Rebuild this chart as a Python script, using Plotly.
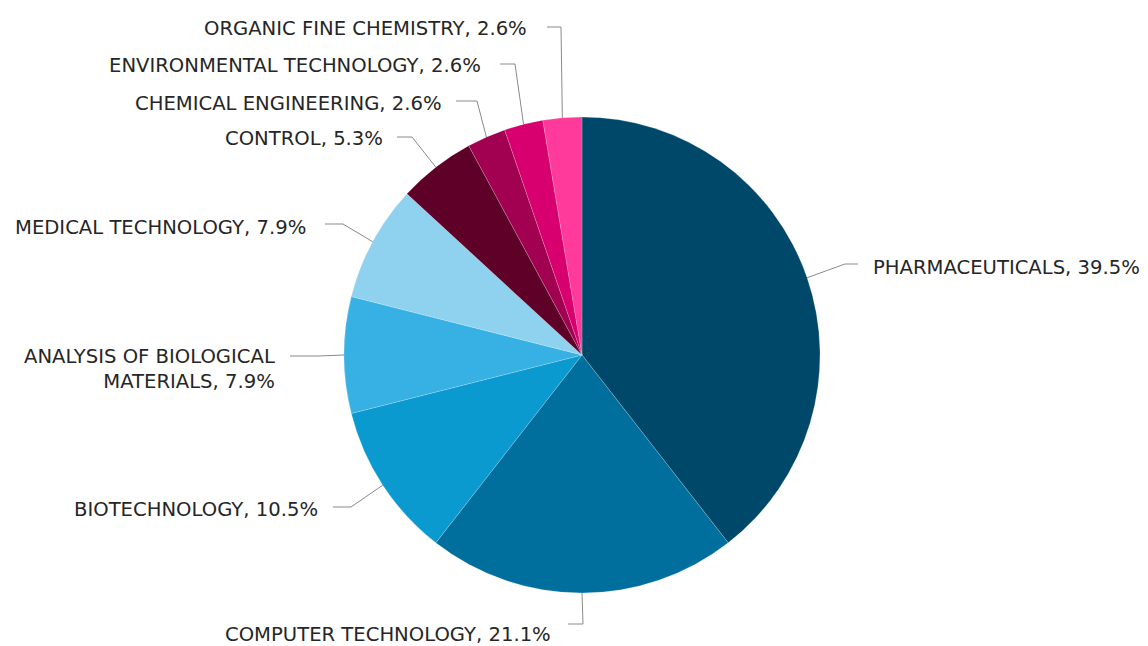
import math
import plotly.graph_objects as go

# ---- data ----
categories = [
    "PHARMACEUTICALS", "COMPUTER TECHNOLOGY", "BIOTECHNOLOGY",
    "ANALYSIS OF BIOLOGICAL<br>MATERIALS", "MEDICAL TECHNOLOGY", "CONTROL",
    "CHEMICAL ENGINEERING", "ENVIRONMENTAL TECHNOLOGY", "ORGANIC FINE CHEMISTRY",
]
counts = [15, 8, 4, 3, 3, 2, 1, 1, 1]
percent_labels = ["39.5%", "21.1%", "10.5%", "7.9%", "7.9%", "5.3%", "2.6%", "2.6%", "2.6%"]
colors = ["#00486a", "#006f9e", "#0b9ad0", "#37b1e3", "#8fd2f0",
          "#5e0027", "#a20050", "#d7006e", "#ff3a9a"]

# ---- layout (pixels) ----
W, H = 1148, 646
CX, CY, R = 582, 355, 238
# label placement: (elbow_x, elbow_y, end_x, text_x, text_y, side)
label_pos = [
    (845, 264, 858, 871, 267, "left"),
    (583, 624, 568, 553, 634, "right"),
    (351, 507, 333, 320, 509, "right"),
    (318, 356, 290, 277, 369, "right"),
    (343, 224, 325, 308, 227, "right"),
    (412, 137, 397, 385, 138, "right"),
    (477, 101, 456, 444, 103, "right"),
    (515, 64, 500, 483, 66, "right"),
    (561, 27, 547, 529, 28, "right"),
]

def px(x):
    return x / W

def py(y):
    return 1 - y / H

fig = go.Figure(go.Pie(
    labels=[c.replace("<br>", " ") for c in categories],
    values=counts,
    sort=False,
    direction="clockwise",
    rotation=0,
    marker=dict(colors=colors, line=dict(color="rgba(255,255,255,0.3)", width=0.6)),
    textinfo="none",
    hoverinfo="label+percent",
    domain=dict(x=[px(CX - R), px(CX + R)], y=[py(CY + R), py(CY - R)]),
    showlegend=False,
))

total = sum(counts)
cum = 0
annotations = []
shapes = []
for cat, v, pct, (ex, ey, lx, tx, ty, side) in zip(categories, counts, percent_labels, label_pos):
    mid = (cum + v / 2) / total * 2 * math.pi
    cum += v
    sx = CX + R * math.sin(mid)
    sy = CY - R * math.cos(mid)
    path = f"M {px(sx)},{py(sy)} L {px(ex)},{py(ey)} L {px(lx)},{py(ey)}"
    shapes.append(dict(type="path", xref="paper", yref="paper", path=path,
                       line=dict(color="#8a8a8a", width=1)))
    annotations.append(dict(
        x=px(tx), y=py(ty), xref="paper", yref="paper",
        text=f"{cat}, {pct}", showarrow=False,
        xanchor=side, yanchor="middle", align="right" if side == "right" else "left",
        font=dict(family="DejaVu Sans", size=19.6, color="#262626"),
    ))

fig.update_layout(
    width=W, height=H,
    margin=dict(l=0, r=0, t=0, b=0),
    paper_bgcolor="white", plot_bgcolor="white",
    annotations=annotations, shapes=shapes,
)

fig.write_html("out.html")
